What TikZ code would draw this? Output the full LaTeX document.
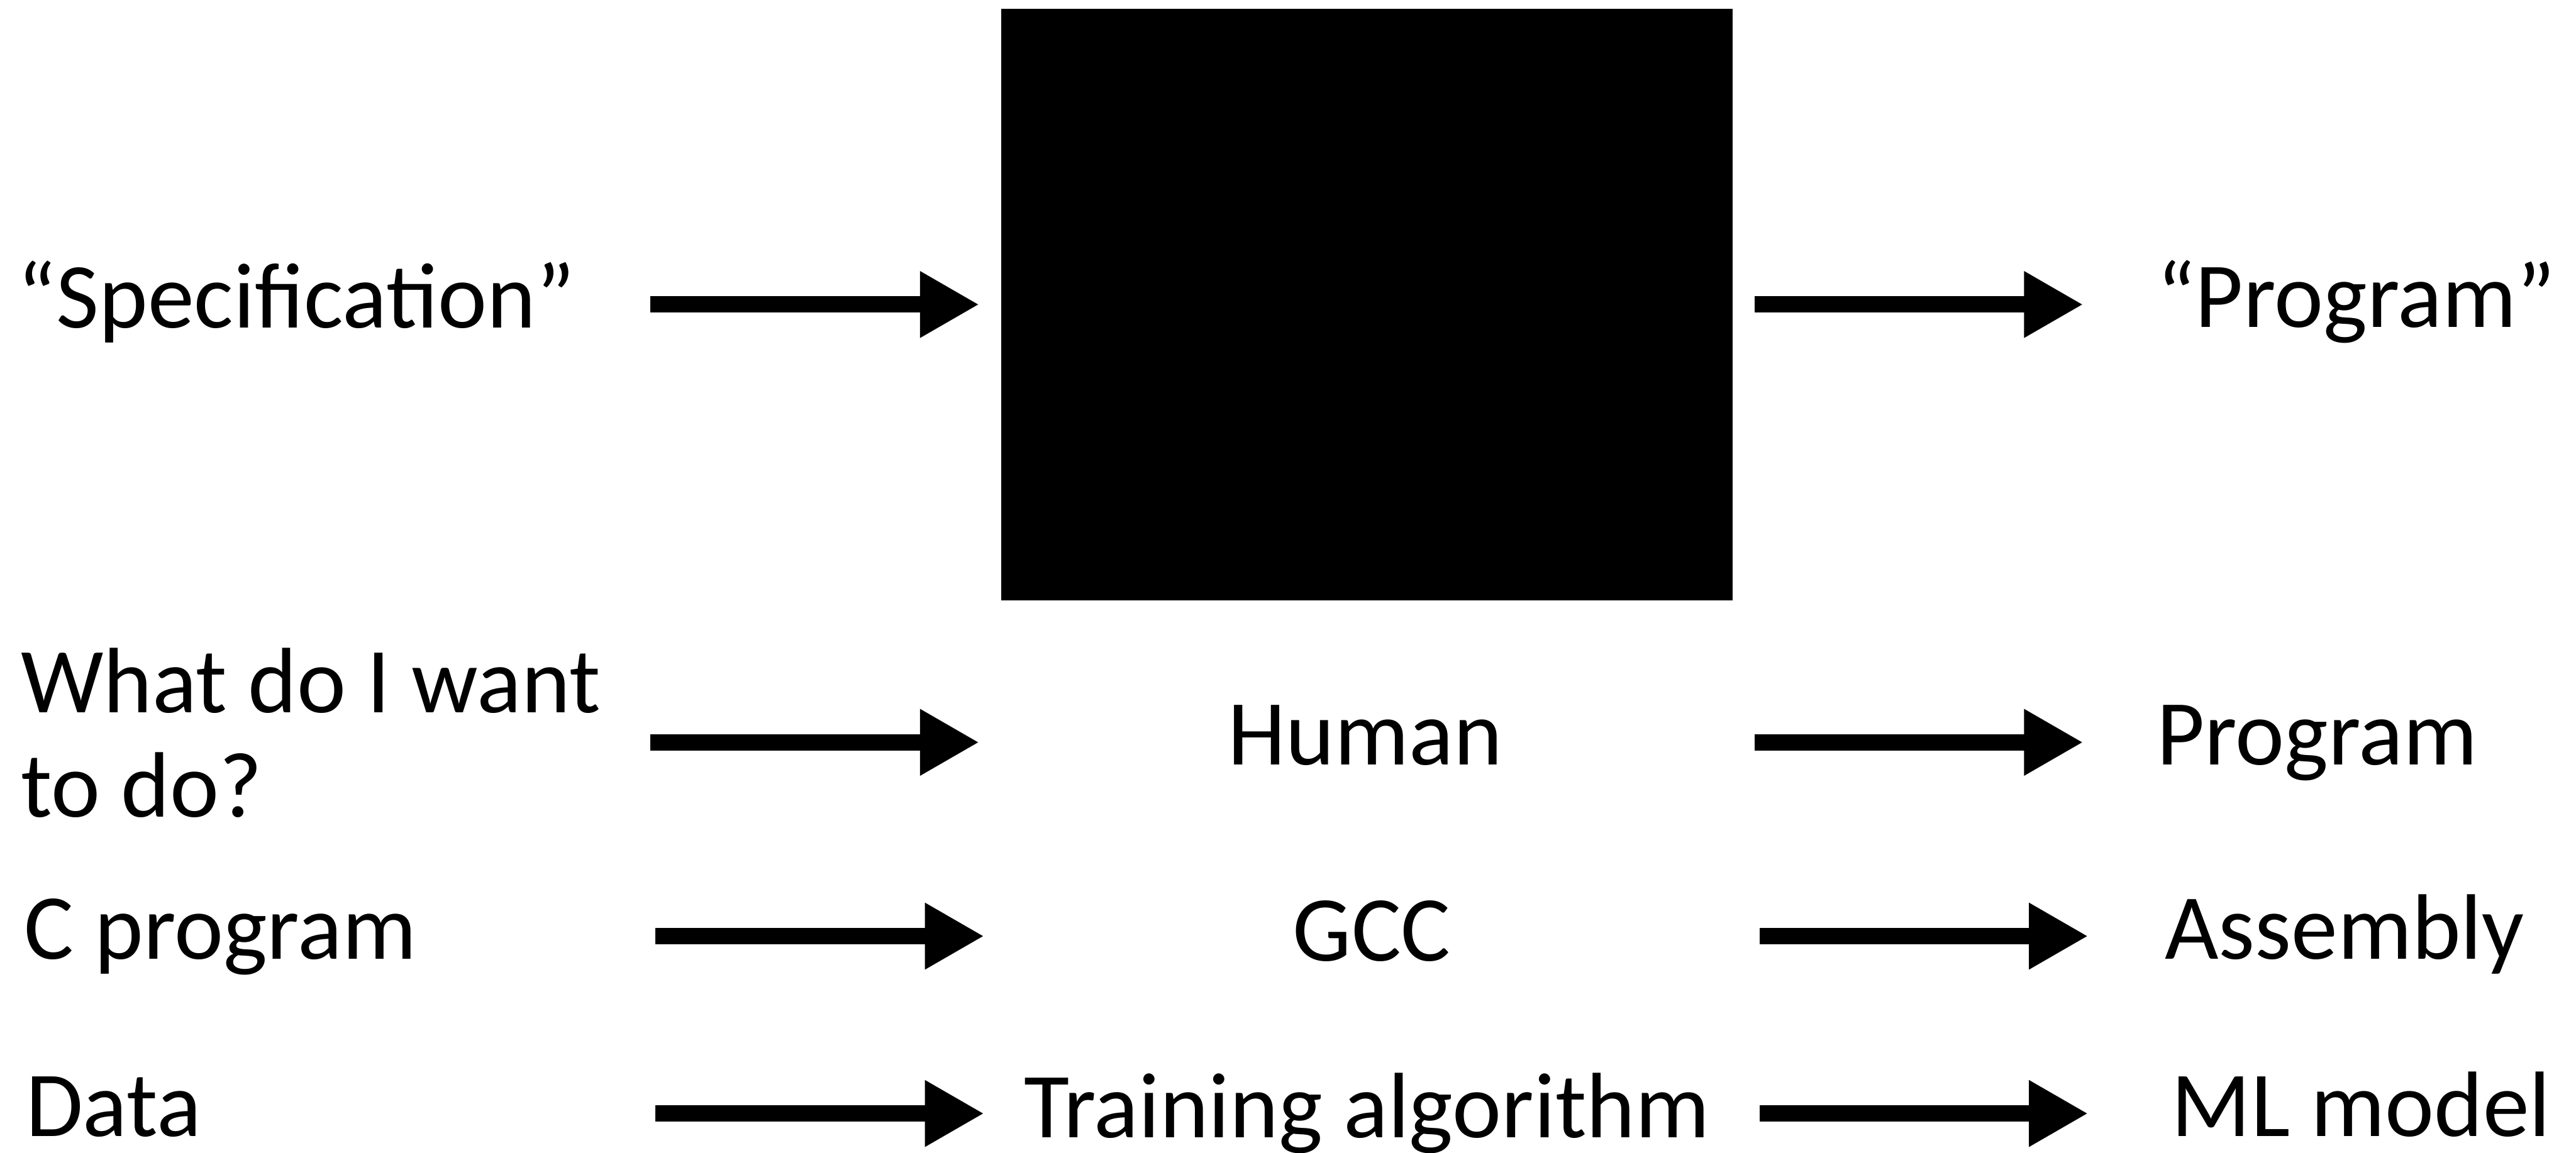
\documentclass[tikz,border=0pt]{standalone}
\usepackage{fontspec}
\setmainfont{Carlito}
\usetikzlibrary{arrows.meta}

\begin{document}
\begin{tikzpicture}[
  lbl/.style={inner sep=0pt, anchor=base west, font=\fontsize{16.1pt}{18pt}\selectfont},
  mid/.style={lbl, anchor=base},
  flow/.style={line width=0.1cm, -{Triangle[length=0.36cm,width=0.38cm]}}
]
\useasboundingbox (0,0) rectangle (15.68,-7.017);

% Black box
\node[fill=black, inner sep=0pt, minimum width=4.454cm, minimum height=3.604cm] (box) at (8.321,-1.855) {};
\node[lbl] (spec) at (0.10,-1.995) {“Specification”};
\node[lbl] (prog) at (13.12,-1.993) {“Program”};

% Rows
\node[lbl, align=left, font=\fontsize{16.1pt}{0.635cm}\selectfont] (want) at (0.12,-4.975) {What do I want\\to do?};
\node[mid] (human) at (8.31,-4.657) {Human};
\node[lbl] (program) at (13.12,-4.657) {Program};

\node[lbl] (cprog) at (0.14,-5.84) {C program};
\node[mid] (gcc) at (8.35,-5.85) {GCC};
\node[lbl] (asm) at (13.17,-5.84) {Assembly};

\node[lbl] (data) at (0.15,-6.92) {Data};
\node[mid] (train) at (8.32,-6.925) {Training algorithm};
\node[lbl] (model) at (13.21,-6.92) {ML model};

% Arrow ends
\coordinate (a1) at (3.96,-1.854);  \coordinate (b1) at (5.96,-1.854);
\coordinate (c1) at (10.68,-1.854); \coordinate (d1) at (12.68,-1.854);
\coordinate (a2) at (3.96,-4.52);   \coordinate (b2) at (5.96,-4.52);
\coordinate (c2) at (10.68,-4.52);  \coordinate (d2) at (12.68,-4.52);
\coordinate (a3) at (3.99,-5.70);   \coordinate (b3) at (5.99,-5.70);
\coordinate (c3) at (10.71,-5.70);  \coordinate (d3) at (12.71,-5.70);
\coordinate (a4) at (3.99,-6.78);   \coordinate (b4) at (5.99,-6.78);
\coordinate (c4) at (10.71,-6.78);  \coordinate (d4) at (12.71,-6.78);

\foreach \i in {1,2,3,4} {
  \draw[flow] (a\i) -- (b\i);
  \draw[flow] (c\i) -- (d\i);
}
\end{tikzpicture}
\end{document}
